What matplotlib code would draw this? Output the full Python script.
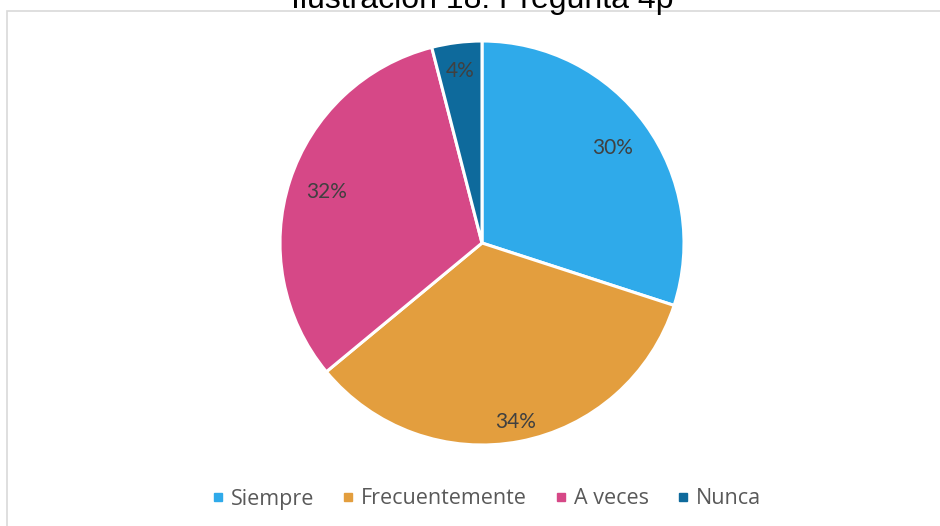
import matplotlib
matplotlib.use("Agg")
import matplotlib.pyplot as plt
from matplotlib.patches import Rectangle
from matplotlib.lines import Line2D
import numpy as np

categories = ["Siempre", "Frecuentemente", "A veces", "Nunca"]
values = [30, 34, 32, 4]
title = "Ilustración 18: Pregunta 4p"

colors = ["#2FAAEA", "#E39E3E", "#D64887", "#0E6A9C"]
label_dist = [0.80, 0.90, 0.81, 0.86]

W, H = 940, 526
fig = plt.figure(figsize=(W / 100, H / 100), dpi=100)

# chart border (partially outside the image)
fig.patches.append(Rectangle((7 / W, -0.1), 1.2, 1 - 11 / H + 0.1, transform=fig.transFigure,
                             fill=False, edgecolor="#D9D9D9", linewidth=1.2, zorder=0))

cx, cy, r = 482, 243, 202
ax = fig.add_axes([(cx - r) / W, (H - cy - r) / H, 2 * r / W, 2 * r / H])
wedges, texts = ax.pie(values, colors=colors, startangle=90, counterclock=False,
                       wedgeprops=dict(edgecolor="white", linewidth=2.2))
ax.set_aspect("equal")
ax.set_xlim(-1, 1)
ax.set_ylim(-1, 1)
ax.axis("off")

total = sum(values)
for w, v, d in zip(wedges, values, label_dist):
    ang = np.deg2rad((w.theta1 + w.theta2) / 2)
    ax.text(d * np.cos(ang), d * np.sin(ang), f"{round(100 * v / total)}%",
            ha="center", va="center", fontsize=15, color="#404040", family="Lato")

fig.text(cx / W, 1 - 8 / H, title, ha="center", va="baseline", fontsize=23,
         family="Liberation Sans", color="#000000")

handles = [Line2D([], [], marker="s", linestyle="none", markersize=6,
                  markerfacecolor=c, markeredgecolor=c) for c in colors]
fig.legend(handles, categories, loc="center", bbox_to_anchor=(487 / W, 1 - 499 / H),
           ncol=4, frameon=False, handlelength=0.5, handletextpad=0.35,
           columnspacing=1.33, prop=dict(family="Open Sans", size=15.5),
           labelcolor="#595959")

fig.savefig("out.png", dpi=100)
